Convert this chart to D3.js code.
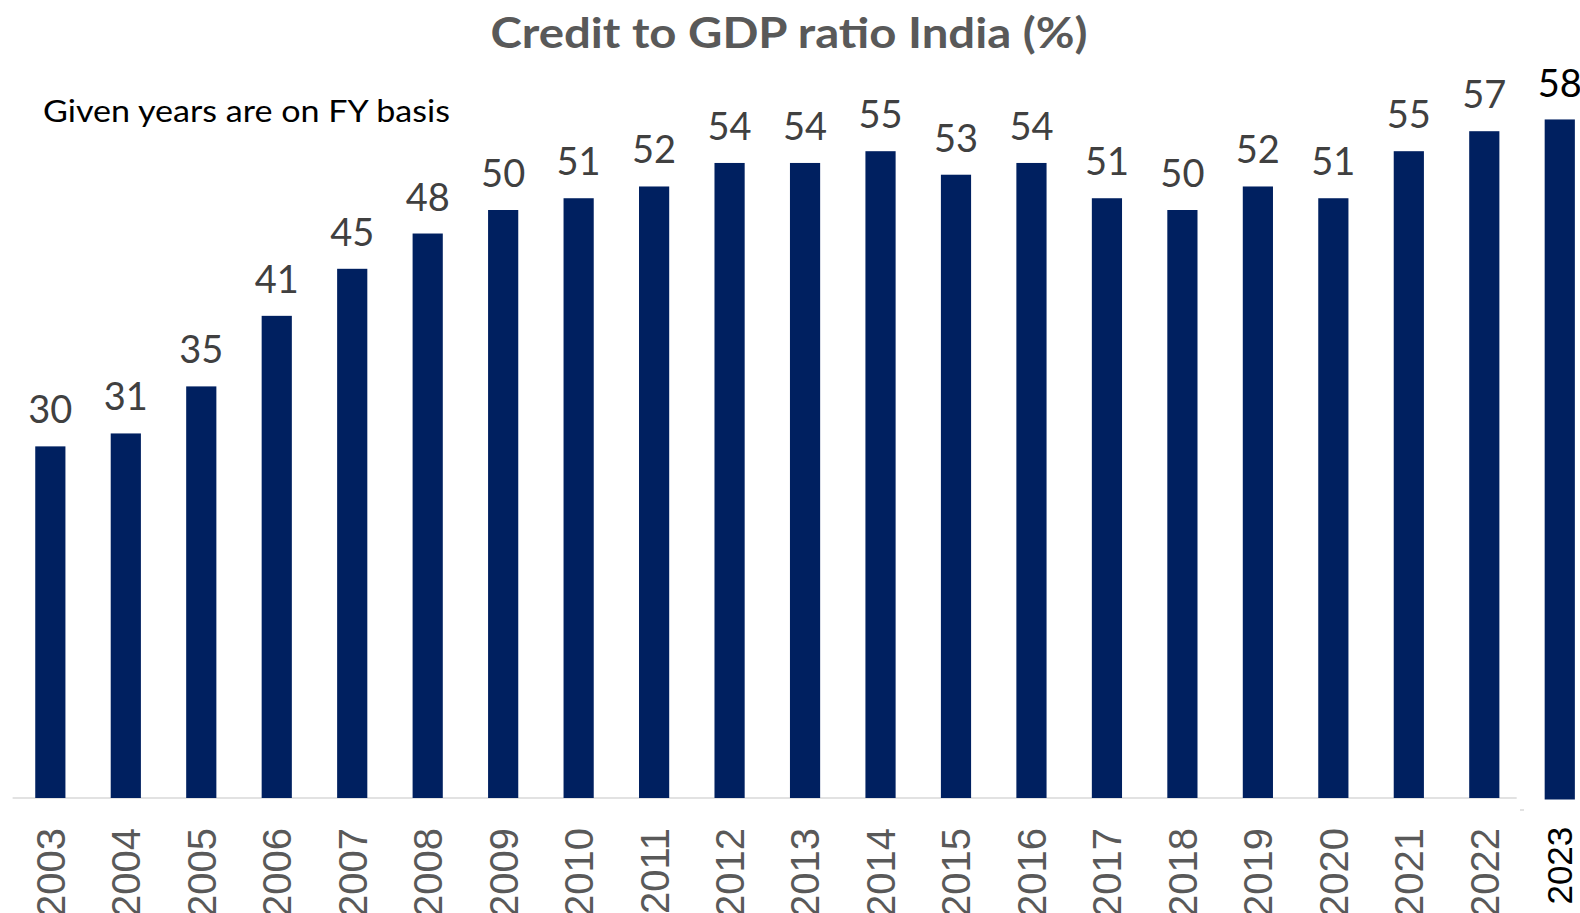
<!DOCTYPE html>
<html>
<head>
<meta charset="utf-8">
<script src="https://cdn.jsdelivr.net/npm/d3@7"></script>
<style>
  html, body { margin: 0; padding: 0; background: #fff; }
  svg { display: block; }
</style>
</head>
<body>
<svg id="chart" width="1580" height="913"></svg>
<script>
// FY years and credit to GDP ratio (%)
const years = ['2003', '2004', '2005', '2006', '2007', '2008', '2009', '2010', '2011', '2012',
  '2013', '2014', '2015', '2016', '2017', '2018', '2019', '2020', '2021', '2022', '2023']
const ratio = [29.9, 31.0, 35.0, 41.0, 45.0, 48.0, 50.0, 51.0, 52.0, 54.0,
  54.0, 55.0, 53.0, 54.0, 51.0, 50.0, 52.0, 51.0, 55.0, 56.7, 57.7]
// the last year was added later, drawn in black
const latestYear = '2023'

const data = years.map((y, i) => ({ year: y, value: ratio[i] }))

const svg = d3.select('#chart')
const baseY = 798

const x = d3.scaleBand()
  .domain(years)
  .range([12.6, 1597.5])
  .paddingInner(0.6)
  .paddingOuter(0.3)

const y = d3.scaleLinear()
  .domain([0, 60])
  .range([baseY, baseY - 60 * 11.76])

const fmt = d3.format('.0f')

// title
svg.append('text')
  .attr('x', 789)
  .attr('y', 48)
  .attr('text-anchor', 'middle')
  .attr('textLength', 597)
  .attr('lengthAdjust', 'spacingAndGlyphs')
  .style('font-family', 'Lato, sans-serif')
  .style('font-weight', 'bold')
  .style('font-size', '42px')
  .style('fill', '#595959')
  .text('Credit to GDP ratio India (%)')

svg.append('text')
  .attr('x', 43)
  .attr('y', 122)
  .attr('textLength', 407)
  .attr('lengthAdjust', 'spacingAndGlyphs')
  .style('font-family', 'Lato, sans-serif')
  .style('font-size', '30px')
  .style('fill', '#000')
  .text('Given years are on FY basis')

// axis line
svg.append('line')
  .attr('x1', 12.6).attr('x2', 1516.7)
  .attr('y1', baseY).attr('y2', baseY)
  .style('stroke', '#d9d9d9')
  .style('stroke-width', 1.5)

svg.append('line')
  .attr('x1', 1520).attr('x2', 1524)
  .attr('y1', 810).attr('y2', 810)
  .style('stroke', '#d9d9d9')
  .style('stroke-width', 1.5)

let g = svg.append('g').attr('class', 'bars')

g.selectAll('rect')
  .data(data)
  .enter().append('rect')
    .attr('x', d => x(d.year))
    .attr('width', x.bandwidth())
    .attr('y', d => y(d.value))
    .attr('height', d => baseY - y(d.value) + (d.year === latestYear ? 1.5 : 0))
    .style('fill', '#002060')

// value labels
g.selectAll('text.value')
  .data(data)
  .enter().append('text')
    .attr('class', 'value')
    .attr('x', d => x(d.year) + x.bandwidth() / 2)
    .attr('y', d => y(d.value) - (d.year === latestYear ? 22 : 23))
    .attr('text-anchor', 'middle')
    .style('font-family', 'Lato, sans-serif')
    .style('font-size', '38px')
    .style('fill', d => d.year === latestYear ? '#000' : '#404040')
    .text(d => fmt(d.value))

// year labels, rotated
g.selectAll('text.year')
  .data(data)
  .enter().append('text')
    .attr('class', 'year')
    .attr('transform', d => {
      let cx = x(d.year) + x.bandwidth() / 2
      let top = d.year === latestYear ? 826.7 : 828
      return `translate(${ cx },${ top }) rotate(-90)`
    })
    .attr('dy', '0.36em')
    .attr('text-anchor', 'end')
    .style('font-family', '"Liberation Sans", Arial, sans-serif')
    .style('font-size', d => d.year === latestYear ? '35px' : '40px')
    .style('fill', d => d.year === latestYear ? '#000' : '#595959')
    .text(d => d.year)
</script>
</body>
</html>
